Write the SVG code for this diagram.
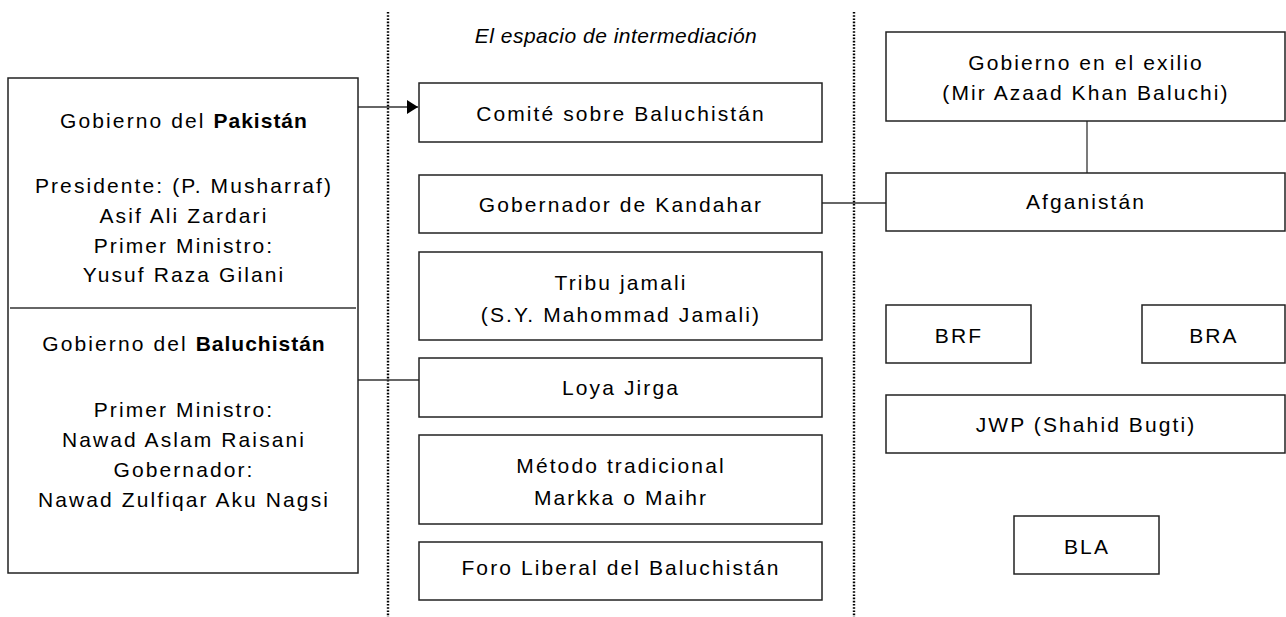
<svg xmlns="http://www.w3.org/2000/svg" width="1286" height="617" viewBox="0 0 1286 617">
<defs>
<style>
.box{fill:#fff;stroke:#222;stroke-width:1.5}
.ln{fill:none;stroke:#333;stroke-width:1.3}
.dot{fill:none;stroke:#000;stroke-width:2.4;stroke-dasharray:1.6 1.6}
text{font-family:"Liberation Sans",Arial,sans-serif;font-size:21px;fill:#000;text-anchor:middle;letter-spacing:2.1px}
.b{font-weight:bold;letter-spacing:1px}
.it{font-style:italic;font-size:21px;letter-spacing:0.5px}
</style>
<marker id="arr" markerWidth="11" markerHeight="14" refX="11" refY="7" orient="auto" markerUnits="userSpaceOnUse">
<path d="M0,0 L11,7 L0,14 Z" fill="#000"/>
</marker>
</defs>
<rect width="1286" height="617" fill="#fff"/>
<g id="separators">
<line class="dot" x1="388" y1="12" x2="388" y2="617"/>
<line class="dot" x1="854" y1="12" x2="854" y2="617"/>
</g>
<text class="it" x="616" y="43">El espacio de intermediación</text>
<g id="connectors">
<line class="ln" x1="358" y1="107" x2="418" y2="107" marker-end="url(#arr)"/>
<line class="ln" x1="358" y1="380" x2="419" y2="380"/>
<line class="ln" x1="822" y1="203" x2="886" y2="203"/>
<line class="ln" x1="1087" y1="121" x2="1087" y2="173"/>
</g>
<g id="gobierno-pakistan-baluchistan">
<rect class="box" x="8" y="78" width="350" height="495"/>
<line class="ln" x1="10" y1="308" x2="356" y2="308"/>
<text x="184" y="128">Gobierno del <tspan class="b">Pakistán</tspan></text>
<text x="184" y="193">Presidente: (P. Musharraf)</text>
<text x="184" y="223">Asif Ali Zardari</text>
<text x="184" y="253">Primer Ministro:</text>
<text x="184" y="282">Yusuf Raza Gilani</text>
<text x="184" y="351">Gobierno del <tspan class="b">Baluchistán</tspan></text>
<text x="184" y="417">Primer Ministro:</text>
<text x="184" y="447">Nawad Aslam Raisani</text>
<text x="184" y="477">Gobernador:</text>
<text x="184" y="507">Nawad Zulfiqar Aku Nagsi</text>
</g>
<g id="comite">
<rect class="box" x="419" y="83" width="403" height="59"/>
<text x="621" y="121">Comité sobre Baluchistán</text>
</g>
<g id="gobernador-kandahar">
<rect class="box" x="419" y="175" width="403" height="58"/>
<text x="621" y="212">Gobernador de Kandahar</text>
</g>
<g id="tribu-jamali">
<rect class="box" x="419" y="252" width="403" height="88"/>
<text x="621" y="290">Tribu jamali</text>
<text x="621" y="322">(S.Y. Mahommad Jamali)</text>
</g>
<g id="loya-jirga">
<rect class="box" x="419" y="358" width="403" height="59"/>
<text x="621" y="395">Loya Jirga</text>
</g>
<g id="metodo-tradicional">
<rect class="box" x="419" y="435" width="403" height="89"/>
<text x="621" y="473">Método tradicional</text>
<text x="621" y="505">Markka o Maihr</text>
</g>
<g id="foro-liberal">
<rect class="box" x="419" y="542" width="403" height="58"/>
<text x="621" y="575">Foro Liberal del Baluchistán</text>
</g>
<g id="gobierno-exilio">
<rect class="box" x="886" y="32" width="399" height="89"/>
<text x="1086" y="70">Gobierno en el exilio</text>
<text x="1086" y="100">(Mir Azaad Khan Baluchi)</text>
</g>
<g id="afganistan">
<rect class="box" x="886" y="173" width="399" height="58"/>
<text x="1086" y="209">Afganistán</text>
</g>
<g id="brf">
<rect class="box" x="886" y="305" width="145" height="58"/>
<text x="959" y="343">BRF</text>
</g>
<g id="bra">
<rect class="box" x="1142" y="305" width="143" height="58"/>
<text x="1214" y="343">BRA</text>
</g>
<g id="jwp">
<rect class="box" x="886" y="395" width="399" height="58"/>
<text x="1086" y="432">JWP (Shahid Bugti)</text>
</g>
<g id="bla">
<rect class="box" x="1014" y="516" width="145" height="58"/>
<text x="1087" y="554">BLA</text>
</g>
</svg>
